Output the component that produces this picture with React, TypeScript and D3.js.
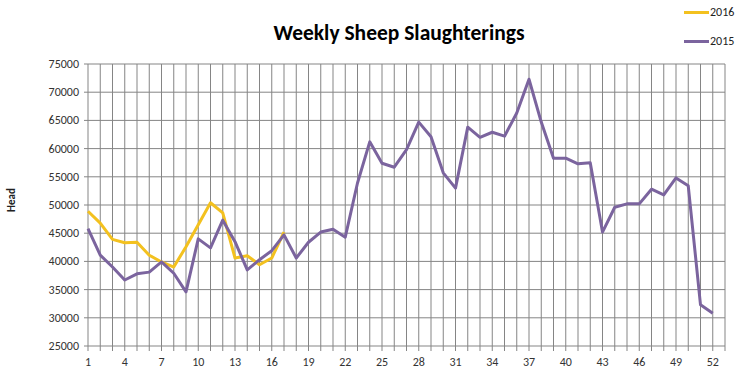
import React from "react";
import * as d3 from "d3";

const weeks2015: number[] = Array.from({ length: 52 }, (_, i) => i + 1);
const values2015: number[] = [
  45800, 41100, 39000, 36700, 37800, 38100, 39900, 37900, 34600, 44000,
  42400, 47300, 43500, 38500, 40300, 41900, 44700, 40600, 43400, 45200,
  45700, 44300, 53900, 61200, 57400, 56700, 59800, 64700, 62100, 55700,
  53000, 63800, 62000, 62900, 62200, 66300, 72300, 64700, 58300, 58300,
  57300, 57500, 45200, 49600, 50200, 50200, 52800, 51800, 54800, 53400,
  32300, 30800,
];
const weeks2016: number[] = Array.from({ length: 17 }, (_, i) => i + 1);
const values2016: number[] = [
  48900, 46800, 43900, 43300, 43400, 41100, 39900, 39000, 42600, 46500,
  50400, 48600, 40600, 41000, 39400, 40600, 45200,
];
const yTicks: number[] = [25000, 30000, 35000, 40000, 45000, 50000, 55000, 60000, 65000, 70000, 75000];
const xLabels: number[] = [1, 4, 7, 10, 13, 16, 19, 22, 25, 28, 31, 34, 37, 40, 43, 46, 49, 52];
const gridWeeks: number[] = Array.from({ length: 53 }, (_, i) => i + 1);

const FONT = "Carlito, Calibri, 'Open Sans', sans-serif";
const C2016 = "#F3C11F";
const C2015 = "#7B649E";
const GRID = "#858585";

export default function App() {
  const x = d3.scaleLinear().domain([1, 53]).range([88, 725]);
  const y = d3.scaleLinear().domain([25000, 75000]).range([346, 64]);
  const line = d3
    .line<[number, number]>()
    .x((d) => x(d[0]))
    .y((d) => y(d[1]));
  const d2015 = line(weeks2015.map((w, i) => [w, values2015[i]]));
  const d2016 = line(weeks2016.map((w, i) => [w, values2016[i]]));

  return (
    <svg
      width={740}
      height={379}
      style={{ position: "absolute", left: 0, top: 0, background: "#fff" }}
      fontFamily={FONT}
    >
      <rect x={0} y={0} width={740} height={379} fill="#fff" />
      <text x={399} y={40} textAnchor="middle" fontSize={21.5} fontWeight="bold" fill="#000">
        Weekly Sheep Slaughterings
      </text>
      {/* legend */}
      <line x1={684} x2={709} y1={12.5} y2={12.5} stroke={C2016} strokeWidth={3} />
      <text x={710} y={16} fontSize={12} fill="#222">2016</text>
      <line x1={684} x2={709} y1={41.5} y2={41.5} stroke={C2015} strokeWidth={3} />
      <text x={710} y={45} fontSize={12} fill="#222">2015</text>

      {/* grid */}
      {yTicks.map((t) => (
        <line key={"h" + t} x1={84} x2={725} y1={y(t)} y2={y(t)} stroke={GRID} strokeWidth={1} />
      ))}
      {gridWeeks.map((w) => (
        <line key={"v" + w} x1={x(w)} x2={x(w)} y1={y(75000)} y2={y(25000) + 5} stroke={GRID} strokeWidth={1} />
      ))}
      {yTicks.map((t) => (
        <text key={"yt" + t} x={79} y={y(t) + 4} textAnchor="end" fontSize={12} fill="#333">
          {t}
        </text>
      ))}
      {xLabels.map((w) => (
        <text key={"xt" + w} x={x(w)} y={366} textAnchor="middle" fontSize={12} fill="#333">
          {w}
        </text>
      ))}
      <text
        transform={`translate(15,200) rotate(-90)`}
        textAnchor="middle"
        fontSize={11}
        fontWeight="bold"
        fill="#222"
      >
        Head
      </text>

      <path d={d2016 || ""} fill="none" stroke={C2016} strokeWidth={3} strokeLinejoin="round" />
      <path d={d2015 || ""} fill="none" stroke={C2015} strokeWidth={3} strokeLinejoin="round" />
    </svg>
  );
}
